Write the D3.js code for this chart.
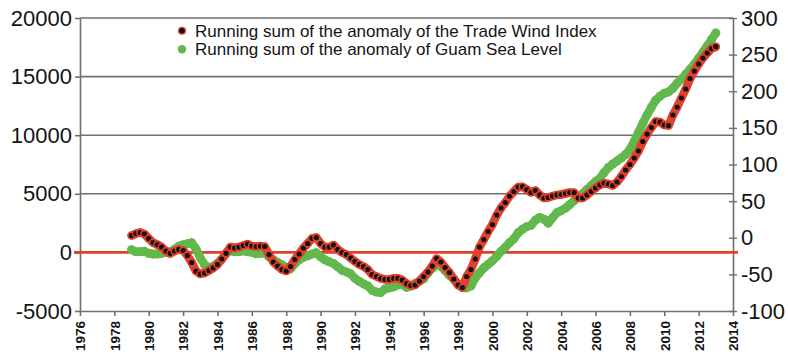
<!DOCTYPE html>
<html>
<head>
<meta charset="utf-8">
<script src="https://cdn.jsdelivr.net/npm/d3@7"></script>
<style>
  html, body { margin: 0; padding: 0; background: #fff; }
  svg { display: block; font-family: "Liberation Sans", Arial, sans-serif; }
</style>
</head>
<body>
<svg id="chart" width="788" height="354"></svg>
<script>
// Quarterly samples, 1979.00 to 2013.00
const startYear = 1979;
const stepYears = 0.25;

// Running sum of the anomaly of the Trade Wind Index (left axis)
const tradeWind = [
  1440, 1610, 1700, 1570, 1190, 840, 670, 460,
  120, -90, 120, 250, 160, -265, -860, -1590,
  -1840, -1760, -1545, -1330, -1030, -565, -90, 460,
  375, 460, 590, 715, 545, 505, 545, 505,
  -180, -820, -1160, -1460, -1590, -1205, -605, -135,
  375, 760, 1190, 1270, 760, 460, 460, 630,
  250, -10, -180, -480, -775, -1030, -1205, -1460,
  -1885, -2055, -2225, -2310, -2310, -2210, -2210, -2355,
  -2655, -2825, -2780, -2440, -2055, -1675, -1160, -520,
  -820, -1290, -1715, -2270, -2780, -2995, -2055, -1460,
  -565, 460, 1100, 1785, 2380, 3190, 3790, 4255,
  4810, 5195, 5580, 5605, 5365, 5110, 5280, 4900,
  4640, 4685, 4810, 4900, 4940, 5025, 5110, 5110,
  4640, 4640, 4900, 5195, 5495, 5750, 5920, 5835,
  5710, 6005, 6475, 7030, 7500, 8055, 8650, 9460,
  10100, 10655, 11170, 11125, 10870, 10825, 11725, 12405,
  13175, 13940, 14835, 15475, 16075, 16585, 17015, 17395,
  17550
];

// Running sum of the anomaly of Guam Sea Level (right axis)
const guamSeaLevel = [
  -16.4, -19.2, -19.2, -18.5, -21.2, -22.3, -22.3, -21.2,
  -19.9, -19.2, -15.8, -11.6, -9.6, -8.2, -6.8, -15.1,
  -27.4, -37.0, -41.1, -39.0, -34.9, -29.5, -21.2, -17.8,
  -19.2, -19.2, -17.8, -19.2, -19.9, -21.9, -21.2, -21.2,
  -26.0, -30.1, -33.6, -37.0, -40.4, -42.5, -35.6, -30.1,
  -26.7, -24.7, -22.3, -20.5, -26.0, -30.1, -32.9, -35.2,
  -39.7, -44.5, -46.6, -49.3, -55.5, -59.6, -63.0, -65.8,
  -71.9, -74.0, -74.7, -69.9, -68.5, -67.1, -64.4, -63.0,
  -67.8, -65.8, -62.3, -59.6, -56.2, -47.9, -41.8, -36.3,
  -39.0, -45.2, -51.4, -56.8, -63.0, -67.8, -68.5, -65.8,
  -54.8, -47.9, -41.1, -36.3, -31.5, -25.3, -18.5, -13.0,
  -6.8, -1.4, 6.8, 11.6, 15.1, 17.1, 24.0, 27.8,
  25.3, 19.9, 27.4, 34.2, 37.0, 40.4, 45.2, 50.7,
  54.8, 60.3, 65.8, 71.2, 76.7, 80.8, 89.0, 95.9,
  100.7, 104.8, 108.9, 113.7, 120.5, 131.5, 143.8, 156.2,
  167.8, 178.1, 187.7, 193.2, 197.3, 199.1, 204.1, 211.0,
  216.4, 223.3, 230.1, 237.0, 245.2, 253.4, 261.7, 270.6,
  279.5
];

const leftTicks = [-5000, 0, 5000, 10000, 15000, 20000];
const rightTicks = [-100, -50, 0, 50, 100, 150, 200, 250, 300];
const yearTicks = [1976, 1978, 1980, 1982, 1984, 1986, 1988, 1990, 1992, 1994,
                   1996, 1998, 2000, 2002, 2004, 2006, 2008, 2010, 2012, 2014];
const legendLabels = [
  "Running sum of the anomaly of the Trade Wind Index",
  "Running sum of the anomaly of Guam Sea Level"
];

const RED = "#e2402b";
const GREEN = "#62b84c";
const AXIS = "#6f6f6f";
const TEXT = "#141414";

const svg = d3.select("#chart");
const plot = { left: 80, right: 733, top: 18, bottom: 311 };

const x = d3.scaleLinear().domain([1976, 2014]).range([plot.left, plot.right]);
const yL = d3.scaleLinear().domain([-5000, 20000]).range([plot.bottom, plot.top]);
const yR = d3.scaleLinear().domain([-100, 300]).range([plot.bottom, plot.top]);

const yearOf = i => startYear + i * stepYears;
const plain = d => String(d);

// horizontal grid lines
svg.append("g")
  .selectAll("line")
  .data(leftTicks.filter(v => v > 0))
  .join("line")
  .attr("x1", plot.left).attr("x2", plot.right)
  .attr("y1", d => yL(d)).attr("y2", d => yL(d))
  .attr("stroke", AXIS).attr("stroke-width", 1.6);

// left axis
const gL = svg.append("g")
  .attr("transform", `translate(${plot.left},0)`)
  .call(d3.axisLeft(yL).tickValues(leftTicks).tickFormat(plain)
    .tickSizeInner(5).tickSizeOuter(0).tickPadding(3));
gL.select(".domain").attr("stroke", AXIS).attr("stroke-width", 1.6);
gL.selectAll(".tick line").attr("stroke", AXIS).attr("stroke-width", 1.6);
gL.selectAll(".tick text").attr("fill", TEXT).style("font-size", "22px");

// right axis, ticks crossing the axis line
const gR = svg.append("g")
  .attr("transform", `translate(${plot.right},0)`)
  .call(d3.axisRight(yR).tickValues(rightTicks).tickFormat(plain)
    .tickSizeInner(4).tickSizeOuter(0).tickPadding(4));
gR.select(".domain").attr("stroke", AXIS).attr("stroke-width", 1.6);
gR.selectAll(".tick line").attr("x1", -4).attr("stroke", AXIS).attr("stroke-width", 1.4);
gR.selectAll(".tick text").attr("fill", TEXT).style("font-size", "22px");

// bottom axis with vertical year labels
const gX = svg.append("g")
  .attr("transform", `translate(0,${plot.bottom})`)
  .call(d3.axisBottom(x).tickValues(yearTicks).tickFormat(plain)
    .tickSizeInner(5).tickSizeOuter(0));
gX.select(".domain").attr("stroke", AXIS).attr("stroke-width", 1.6);
gX.selectAll(".tick line").attr("stroke", AXIS).attr("stroke-width", 1.6);
gX.selectAll(".tick text")
  .attr("fill", TEXT)
  .style("font-size", "13.5px")
  .style("font-weight", "bold")
  .attr("transform", "rotate(-90)")
  .attr("text-anchor", "end")
  .attr("x", -10).attr("y", 0).attr("dy", "0.36em");

// zero reference line
svg.append("line")
  .attr("x1", plot.left - 6).attr("x2", plot.right + 5)
  .attr("y1", yL(0)).attr("y2", yL(0))
  .attr("stroke", RED).attr("stroke-width", 2.6);

// Guam sea level series
const gsl = guamSeaLevel.map((v, i) => [yearOf(i), v]);
svg.append("path")
  .datum(gsl)
  .attr("fill", "none")
  .attr("stroke", GREEN).attr("stroke-width", 8.5)
  .attr("stroke-linejoin", "round").attr("stroke-linecap", "round")
  .attr("d", d3.line().x(d => x(d[0])).y(d => yR(d[1])));
svg.append("g")
  .selectAll("circle")
  .data(gsl)
  .join("circle")
  .attr("cx", d => x(d[0])).attr("cy", d => yR(d[1]))
  .attr("r", 4.5)
  .attr("fill", GREEN);

// Trade wind index series
const twi = tradeWind.map((v, i) => [yearOf(i), v]);
svg.append("path")
  .datum(twi)
  .attr("fill", "none")
  .attr("stroke", RED).attr("stroke-width", 8.5)
  .attr("stroke-linejoin", "round").attr("stroke-linecap", "round")
  .attr("d", d3.line().x(d => x(d[0])).y(d => yL(d[1])));
svg.append("g")
  .selectAll("circle")
  .data(twi)
  .join("circle")
  .attr("cx", d => x(d[0])).attr("cy", d => yL(d[1]))
  .attr("r", 3.3)
  .attr("fill", "#111")
  .attr("stroke", RED).attr("stroke-width", 1.4);

// legend
const legend = svg.append("g").attr("transform", "translate(182,30.7)");
const legendItems = legend.selectAll("g")
  .data(legendLabels)
  .join("g")
  .attr("transform", (d, i) => `translate(0,${i * 18.6})`);
legendItems.append("circle")
  .attr("r", (d, i) => i === 0 ? 3.4 : 4.2)
  .attr("fill", (d, i) => i === 0 ? "#111" : GREEN)
  .attr("stroke", (d, i) => i === 0 ? RED : "none")
  .attr("stroke-width", 1.3);
legendItems.append("text")
  .attr("x", 13).attr("dy", "0.36em")
  .attr("fill", TEXT)
  .style("font-size", "17px")
  .text(d => d);
</script>
</body>
</html>
